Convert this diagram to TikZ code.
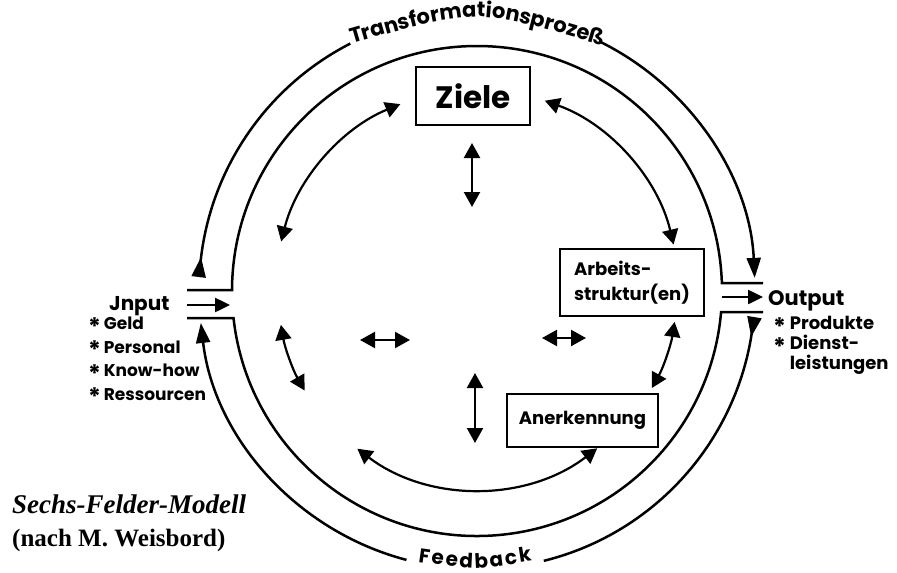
\documentclass[tikz,border=0pt]{standalone}
\usepackage{fontspec}
\newfontfamily\hand{Poppins}
\newfontfamily\capserif{Liberation Serif}
\usetikzlibrary{arrows.meta,decorations.text}
\newcommand\hsz[1]{\hand\bfseries\fontsize{#1}{#1}\selectfont}
\newcommand\bul{\raisebox{-0.55ex}{\fontsize{24}{24}\selectfont *}}
\begin{document}
\begin{tikzpicture}[x=1pt,y=1pt,
  ring/.style={line width=2.5pt},
  flow/.style={ring,-{Triangle[length=20pt,width=14pt]}},
  dbl/.style={line width=2.2pt,{Triangle[length=15pt,width=16pt]}-{Triangle[length=15pt,width=16pt]}},
  io/.style={line width=2.5pt,-{Triangle[length=15pt,width=14pt]}},
  field/.style={draw,line width=1.8pt,inner sep=0pt,align=center},
]
\useasboundingbox[fill=white] (0,0) rectangle (897,-573);

% the transformation ring around the centre C
\coordinate (C) at (477,-291);
\begin{scope}[shift={(C)}]
  % outer line, upper half: from the input side over the top to the output
  \draw[ring] (177.1:278) arc[start angle=177.1,end angle=117.1,radius=278];
  \draw[flow] (177.1:278) arc[start angle=177.1,end angle=173,radius=278];
  \draw[flow] (63.4:278) arc[start angle=63.4,end angle=2.7,radius=278];
  % outer line, lower half: feedback back to the input
  \draw[ring] (-5.4:278) arc[start angle=-5.4,end angle=-76.1,radius=278];
  \draw[flow] (-5.4:278) arc[start angle=-5.4,end angle=-9.5,radius=278];
  \draw[flow] (255.3:278) arc[start angle=255.3,end angle=186.6,radius=278];
  % inner line with the closed ends of the band
  \draw[ring] (-290,1) -- (179.77:245) arc[start angle=179.77,end angle=1.87,radius=245] -- (286,8);
  \draw[ring] (-290,-27) -- (186.33:245) arc[start angle=186.33,end angle=355.08,radius=245] -- (286,-21);
  % interactions between the six fields
  \draw[dbl] (165.8:202) arc[start angle=165.8,end angle=112.3,radius=202];
  \draw[dbl] (70.4:202) arc[start angle=70.4,end angle=13.3,radius=202];
  \draw[dbl] (-8.9:200) arc[start angle=-8.9,end angle=-29,radius=200];
  \draw[dbl] (232.8:198) arc[start angle=232.8,end angle=307.4,radius=198];
  \draw[dbl] (189.8:199) arc[start angle=189.8,end angle=210,radius=199];
\end{scope}

% straight double arrows around the centre
\coordinate (vt1) at (472,-143); \coordinate (vt2) at (472,-207);
\coordinate (vb1) at (475,-373); \coordinate (vb2) at (475,-443);
\coordinate (hl1) at (360,-340); \coordinate (hl2) at (410,-340);
\coordinate (hr1) at (542,-338); \coordinate (hr2) at (586,-338);
\draw[dbl] (vt1) -- (vt2);
\draw[dbl] (vb1) -- (vb2);
\draw[dbl] (hl1) -- (hl2);
\draw[dbl] (hr1) -- (hr2);

% input and output arrows
\coordinate (in1) at (187,-305); \coordinate (in2) at (230,-305);
\coordinate (out1) at (722,-297); \coordinate (out2) at (763,-297);
\draw[io] (in1) -- (in2);
\draw[io] (out1) -- (out2);

% field boxes
\node[field,minimum width=114pt,minimum height=58pt,font=\hsz{31}] (ziele) at (473,-96) {Ziele};
\node[field,minimum width=144pt,minimum height=67pt,align=left,
  font=\hand\bfseries\fontsize{18}{25}\selectfont] (arbeit) at (632,-282.5)
  {Arbeits-\\struktur(en)};
\node[field,minimum width=151pt,minimum height=53pt,font=\hsz{18}] (anerk) at (582.5,-420.5) {Anerkennung};

% labels of the ring
\path[decorate,decoration={text along path,text align={fit to path},
  text={|\hsz{21}|Transformationsprozeß}}]
  (352,-44) .. controls (475,-8) .. (598,-44);
\path[decorate,decoration={text along path,text align={fit to path},
  text={|\hsz{20}|Feedback}}]
  (418,-562) .. controls (475,-570) .. (532,-561);

% input side
\node[anchor=base west,inner sep=0pt,font=\hsz{20}] (input) at (109,-310) {Jnput};
\node[anchor=north west,inner sep=0pt,align=left,
  font=\hand\bfseries\fontsize{17}{23.5}\selectfont] (inlist) at (88,-317)
  {\bul\,Geld\\\bul\,Personal\\\bul\,Know-how\\\bul\,Ressourcen};

% output side
\node[anchor=base west,inner sep=0pt,font=\hsz{21}] (output) at (768,-305) {Output};
\node[anchor=north west,inner sep=0pt,align=left,
  font=\hand\bfseries\fontsize{18}{20}\selectfont] (outlist) at (773,-316)
  {\bul\ Produkte\\\bul\ Dienst-\\\phantom{\bul\ }leistungen};

% caption
\node[anchor=base west,inner sep=0pt,
  font=\capserif\bfseries\itshape\fontsize{27}{27}\selectfont] (title) at (12,-513)
  {Sechs-Felder-Modell};
\node[anchor=base west,inner sep=0pt,
  font=\capserif\bfseries\fontsize{25}{25}\selectfont] (source) at (12,-546)
  {(nach M. Weisbord)};
\end{tikzpicture}
\end{document}
